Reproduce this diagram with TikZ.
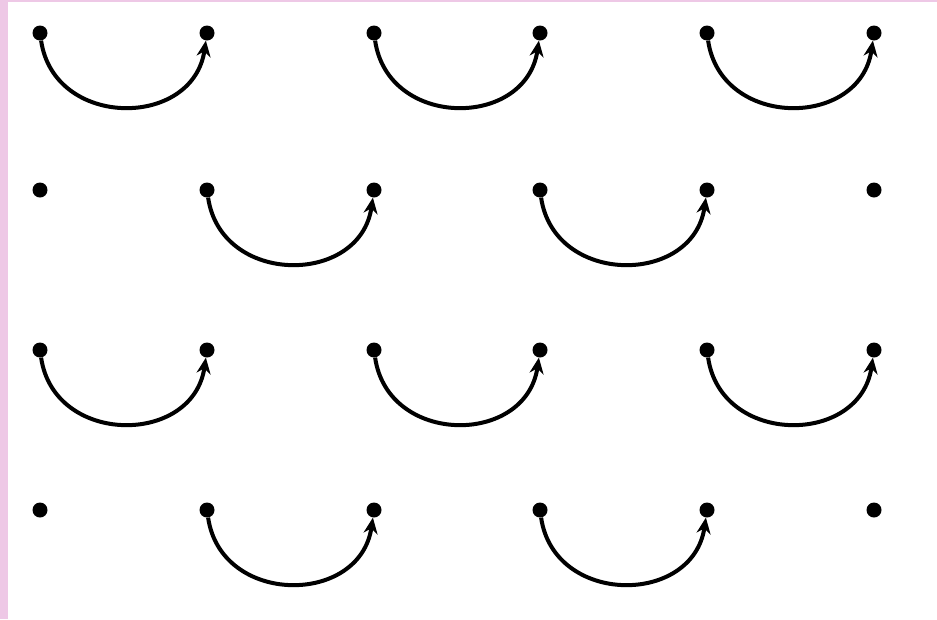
\documentclass[tikz,border=0pt]{standalone}
\usetikzlibrary{arrows.meta}
\definecolor{pinkstrip}{RGB}{238,200,230}
\begin{document}
\begin{tikzpicture}[x=1pt,y=-1pt,
  dot/.style={circle,fill=black,inner sep=0pt,minimum size=15pt},
  arcline/.style={line width=4pt,-{Stealth[length=16pt,width=14pt]}}]
\useasboundingbox (0,0) rectangle (937,619);
\fill[white] (0,0) rectangle (937,619);
\fill[pinkstrip] (0,0) rectangle (8,619);
\fill[pinkstrip] (0,0) rectangle (937,2);
\foreach \r/\y in {1/33,2/190,3/350,4/510}{
  \foreach \c/\x in {1/40,2/207,3/374,4/540,5/707,6/874}{
    \node[dot] (n\r\c) at (\x,\y) {};
  }
}
\foreach \r in {1,3}{
  \draw[arcline] (n\r1) .. controls +(14,96) and +(-14,96) .. (n\r2);
  \draw[arcline] (n\r3) .. controls +(14,96) and +(-14,96) .. (n\r4);
  \draw[arcline] (n\r5) .. controls +(14,96) and +(-14,96) .. (n\r6);
}
\foreach \r in {2,4}{
  \draw[arcline] (n\r2) .. controls +(14,96) and +(-14,96) .. (n\r3);
  \draw[arcline] (n\r4) .. controls +(14,96) and +(-14,96) .. (n\r5);
}
\end{tikzpicture}
\end{document}
